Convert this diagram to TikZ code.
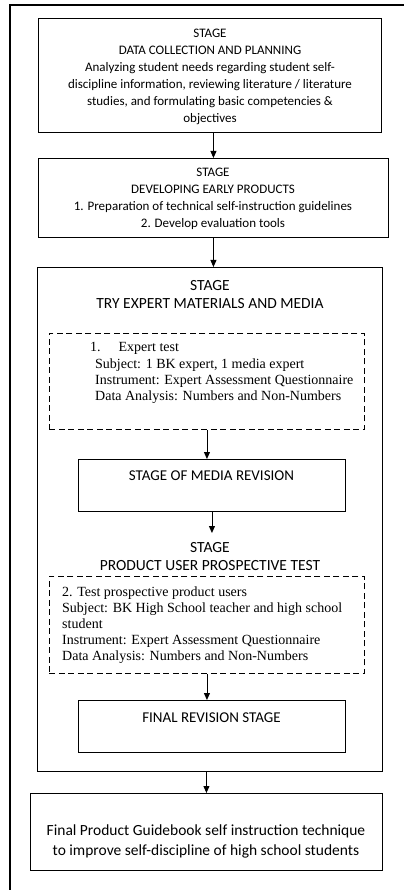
\documentclass[tikz,border=0pt]{standalone}
\usepackage{fontspec}
\setmainfont{Liberation Serif}
\newfontfamily\calfont{Carlito}
\usetikzlibrary{arrows.meta}
\begin{document}
\begin{tikzpicture}[x=1pt,y=-1pt,
  box/.style={draw, line width=0.9pt, inner sep=0pt, anchor=north west},
  dbox/.style={box, dash pattern=on 6pt off 3.5pt},
  stxt/.style={font=\calfont\fontsize{13}{17}\selectfont, align=center, inner sep=0pt, anchor=north},
  htxt/.style={stxt, font=\calfont\fontsize{15.5}{18.7}\selectfont},
  rtxt/.style={font=\fontsize{14}{16.3}\selectfont, align=left, inner sep=0pt, anchor=north west},
  arr/.style={-{Triangle[length=7pt,width=6pt]}, line width=0.9pt}]
\useasboundingbox (0,0) rectangle (404,890);
% outer frame (cropped)
\coordinate (fr1) at (10,890);
\coordinate (fr2) at (10,5);
\coordinate (fr3) at (404,5);
\draw[line width=1.4pt] (fr1) -- (fr2) -- (fr3);
% boxes
\node[box, minimum width=343pt, minimum height=114pt] (b1) at (38,18) {};
\node[box, minimum width=350pt, minimum height=79pt] (b2) at (38,158) {};
\node[box, minimum width=345pt, minimum height=504pt] (big) at (37,267) {};
\node[dbox, minimum width=315pt, minimum height=96pt] (d1) at (49,333) {};
\node[box, minimum width=267pt, minimum height=52pt] (m) at (78,459) {};
\node[dbox, minimum width=315pt, minimum height=97pt] (d2) at (49,576) {};
\node[box, minimum width=267pt, minimum height=52pt] (fr) at (78,700) {};
\node[box, minimum width=352pt, minimum height=77pt] (fin) at (30,793) {};
% texts
\node[stxt] (t1) at (210,28.8) {STAGE\\DATA COLLECTION AND PLANNING\\Analyzing student needs regarding student self-\\discipline information, reviewing literature / literature\\studies, and formulating basic competencies \&\\objectives};
\node[stxt] (t2) at (213,168) {STAGE\\DEVELOPING EARLY PRODUCTS\\1. Preparation of technical self-instruction guidelines\\2. Develop evaluation tools};
\node[htxt] (t3) at (210,280) {STAGE\\TRY EXPERT MATERIALS AND MEDIA};
\node[rtxt] (t4) at (95,342.4) {\hspace*{-5pt}1.\hspace{18pt}Expert test\\Subject: 1 BK expert, 1 media expert\\Instrument: Expert Assessment Questionnaire\\Data Analysis: Numbers and Non-Numbers};
\node[stxt, font=\calfont\fontsize{15}{18}\selectfont] (t5) at (211.5,470.2) {STAGE OF MEDIA REVISION};
\node[htxt] (t6) at (210,542) {STAGE\\PRODUCT USER PROSPECTIVE TEST};
\node[rtxt, font=\fontsize{14}{16}\selectfont] (t7) at (62,586.4) {2. Test prospective product users\\Subject: BK High School teacher and high school\\student\\Instrument: Expert Assessment Questionnaire\\Data Analysis: Numbers and Non-Numbers};
\node[stxt, font=\calfont\fontsize{15}{18}\selectfont] (t8) at (211.5,712.2) {FINAL REVISION STAGE};
\node[stxt, font=\calfont\fontsize{15.5}{20}\selectfont] (t9) at (206,825) {Final Product Guidebook self instruction technique\\to improve self-discipline of high school students};
% connectors
\draw[arr] (b2.north |- b1.south) -- (b2.north);
\draw[arr] (b2.south) -- (b2.south |- big.north);
\draw[arr] (d1.south) -- (d1.south |- m.north);
\draw[arr, shorten >=9pt] (m.south) -- (m.south |- t6.north);
\draw[arr] (d2.south) -- (d2.south |- fr.north);
\draw[arr] (fin.north |- big.south) -- (fin.north);
\end{tikzpicture}
\end{document}
